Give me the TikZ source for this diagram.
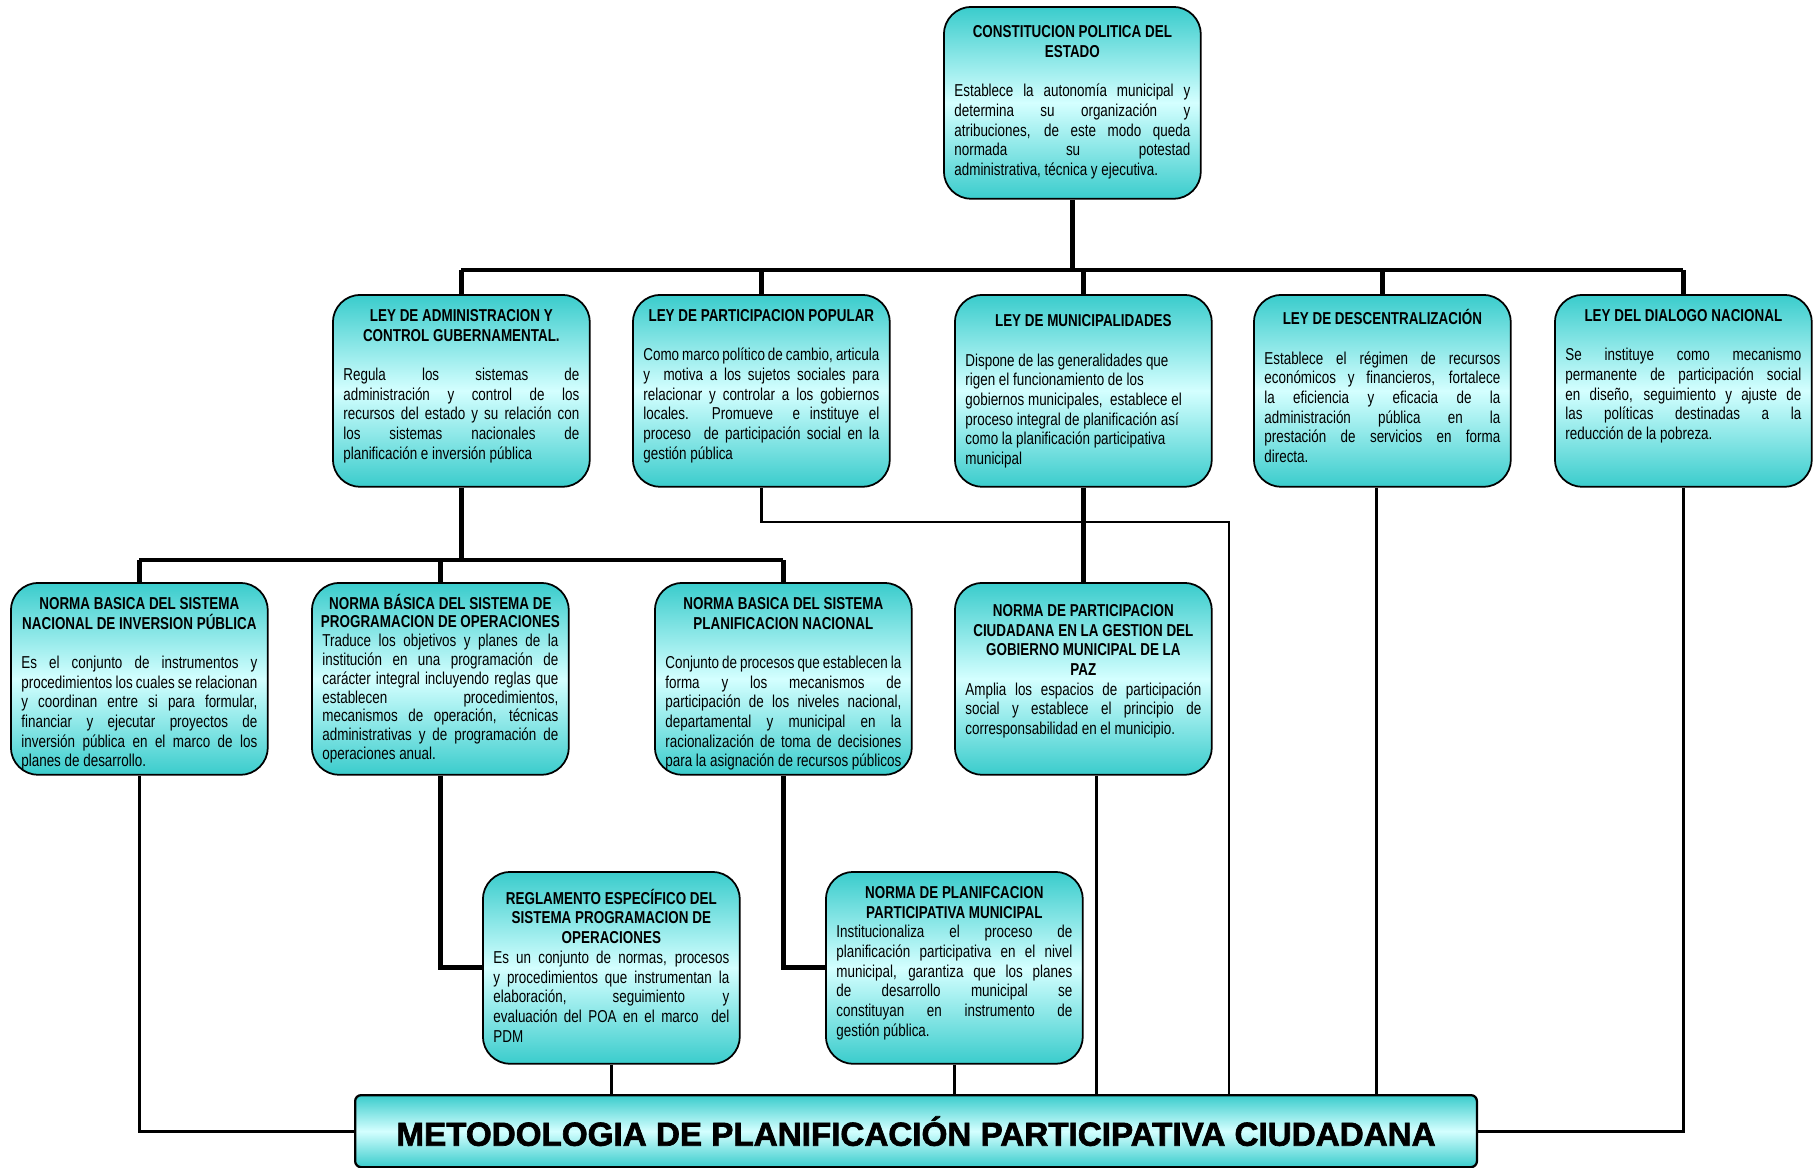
\documentclass[tikz,border=0pt]{standalone}
\usepackage{fontspec}
\setmainfont[FakeStretch=0.78]{Liberation Sans}
\newfontfamily\titulofont[FakeBold=2]{Liberation Sans Bold}
\usetikzlibrary{calc}

\definecolor{turq}{RGB}{58,204,204}
\definecolor{celeste}{RGB}{212,255,255}

% caja de texto: titulo centrado, cuerpo justificado
\newcommand{\ficha}[3][0pt]{\parbox[c][3.54cm][t]{4.72cm}{\tolerance=10000\hyphenpenalty=10000
  \vspace*{4pt}{\centering\bfseries #2\par}\vspace{#1}#3}}
% linea de titulo que no se corta
\newcommand{\renglon}[1]{\makebox[\linewidth][c]{#1}}

\begin{document}
\begin{tikzpicture}[x=0.02cm,y=-0.02cm,
    caja/.style={draw=black,line width=1pt,rounded corners=0.55cm,
      top color=turq,bottom color=turq,middle color=celeste,
      inner xsep=0.21cm,inner ysep=0.15cm,anchor=north west,
      font=\fontsize{9.8}{11.2}\selectfont},
    final/.style={draw=black,line width=1.3pt,rounded corners=0.12cm,
      top color=turq,bottom color=turq,middle color=celeste,
      minimum width=22.44cm,minimum height=1.44cm,anchor=north west,
      font=\titulofont\fontsize{18.9}{22}\selectfont},
    gruesa/.style={line width=2.8pt},
    fina/.style={line width=1.6pt}]
  \useasboundingbox (0,0) rectangle (1818,1167);

  % constitucion
  \node[caja] (cpe) at (943,6) {\ficha[\baselineskip]{\vspace{2.5pt}CONSTITUCION POLITICA DEL\\ESTADO}{%
    Establece la autonomía municipal y\linebreak determina su organización y\linebreak
    atribuciones, de este modo queda\linebreak normada su potestad\linebreak
    administrativa, técnica y ejecutiva.}};

  % las leyes
  \node[caja] (lac) at (332,294) {\ficha[\baselineskip]{LEY DE ADMINISTRACION Y\\CONTROL GUBERNAMENTAL.}{%
    Regula los sistemas de\linebreak administración y control de los\linebreak
    recursos del estado y su relación con\linebreak los sistemas nacionales de\linebreak
    planificación e inversión pública}};
  \node[caja] (lpp) at (632,294) {\ficha[\baselineskip]{LEY DE PARTICIPACION POPULAR}{%
    Como marco político de cambio, articula\linebreak y\ \ motiva a los sujetos sociales para\linebreak
    relacionar y controlar a los gobiernos\linebreak locales. Promueve\ \ e instituye el\linebreak
    proceso\ \ de participación social en la\linebreak gestión pública}};
  \node[caja] (lmun) at (954,294) {\ficha[\baselineskip]{\vspace{3pt}LEY DE MUNICIPALIDADES}{%
    Dispone de las generalidades que\\ rigen el funcionamiento de los\\
    gobiernos municipales,\ \ establece el\\ proceso integral de planificación así\\
    como la planificación participativa\\ municipal}};
  \node[caja] (ldes) at (1253,294) {\ficha[\baselineskip]{LEY DE DESCENTRALIZACIÓN}{%
    Establece el régimen de recursos\linebreak económicos y financieros, fortalece\linebreak
    la eficiencia y eficacia de la\linebreak administración pública en la\linebreak
    prestación de servicios en forma\linebreak directa.}};
  \node[caja] (ldn) at (1554,294) {\ficha[\baselineskip]{LEY DEL DIALOGO NACIONAL}{%
    Se instituye como mecanismo\linebreak permanente de participación social\linebreak
    en diseño, seguimiento y ajuste de\linebreak las políticas destinadas a la\linebreak
    reducción de la pobreza.}};

  % las normas
  \node[caja] (nbsnip) at (10,582) {\ficha[\baselineskip]{NORMA BASICA DEL SISTEMA\\NACIONAL DE INVERSION PÚBLICA}{%
    Es el conjunto de instrumentos y\linebreak procedimientos los cuales se relacionan\linebreak
    y coordinan entre si para formular,\linebreak financiar y ejecutar proyectos de\linebreak
    inversión pública en el marco de los\linebreak planes de desarrollo.}};
  \node[caja,font=\fontsize{9.8}{10.7}\selectfont] (nbspo) at (311,582) {\ficha{\vspace{-2pt}\renglon{NORMA BÁSICA DEL SISTEMA DE}\\
    \renglon{PROGRAMACION DE OPERACIONES}}{%
    Traduce los objetivos y planes de la\linebreak institución en una programación de\linebreak
    carácter integral incluyendo reglas que\linebreak establecen procedimientos,\linebreak
    mecanismos de operación, técnicas\linebreak administrativas y de programación de\linebreak
    operaciones anual.}};
  \node[caja] (nbspn) at (654,582) {\ficha[\baselineskip]{NORMA BASICA DEL SISTEMA\\PLANIFICACION NACIONAL}{%
    Conjunto de procesos que establecen la\linebreak forma y los mecanismos de\linebreak
    participación de los niveles nacional,\linebreak departamental y municipal en la\linebreak
    racionalización de toma de decisiones\linebreak para la asignación de recursos públicos}};
  \node[caja] (npc) at (954,582) {\ficha{\vspace{4pt}NORMA DE PARTICIPACION\\CIUDADANA EN LA GESTION DEL\\GOBIERNO MUNICIPAL DE LA\\PAZ}{%
    Amplia los espacios de participación\linebreak social y establece el principio de\linebreak
    corresponsabilidad en el municipio.}};

  % reglamentos
  \node[caja] (respo) at (482,871) {\ficha{\vspace{1.5pt}REGLAMENTO ESPECÍFICO DEL\\SISTEMA PROGRAMACION DE\\OPERACIONES}{%
    Es un conjunto de normas, procesos\linebreak y procedimientos que instrumentan la\linebreak
    elaboración, seguimiento y\linebreak evaluación del POA en el marco\ \ del\linebreak PDM}};
  \node[caja] (nppm) at (825,871) {\ficha{NORMA DE PLANIFCACION\\PARTICIPATIVA MUNICIPAL}{%
    Institucionaliza el proceso de\linebreak planificación participativa en el nivel\linebreak
    municipal, garantiza que los planes\linebreak de desarrollo municipal se\linebreak
    constituyan en instrumento de\linebreak gestión pública.}};

  \node[final] (metodo) at (354,1094) {METODOLOGIA DE PLANIFICACIÓN PARTICIPATIVA CIUDADANA};

  % el arbol
  \coordinate (bus) at (0,270);
  \coordinate (bus2) at (0,560);
  \coordinate (codo) at (1229,522);

  \draw[gruesa] (cpe.south) -- (cpe.south |- bus);
  \draw[gruesa] (lac.north |- bus) -- (ldn.north |- bus);
  \foreach \n in {lac,lpp,lmun,ldes,ldn}
    \draw[gruesa] (\n.north) -- (\n.north |- bus);

  \draw[gruesa] (lac.south) -- (lac.south |- bus2);
  \draw[gruesa] (nbsnip.north |- bus2) -- (nbspn.north |- bus2);
  \foreach \n in {nbsnip,nbspo,nbspn}
    \draw[gruesa] (\n.north) -- (\n.north |- bus2);
  \draw[gruesa] (lmun.south) -- (npc.north);
  \draw[gruesa] (nbspo.south) |- (respo.west);
  \draw[gruesa] (nbspn.south) |- (nppm.west);

  % hacia la metodologia
  \draw[fina] (nbsnip.south) |- (metodo.west);
  \draw[fina] (ldn.south) |- (metodo.east);
  \foreach \n in {respo,nppm}
    \draw[fina] (\n.south) -- (\n.south |- metodo.north);
  \draw[fina] ([xshift=0.26cm]npc.south) -- ([xshift=0.26cm]npc.south |- metodo.north);
  \draw[fina] ([xshift=-0.12cm]ldes.south) -- ([xshift=-0.12cm]ldes.south |- metodo.north);
  \draw[fina] (lpp.south) |- (codo) -- (codo |- metodo.north);
\end{tikzpicture}
\end{document}
